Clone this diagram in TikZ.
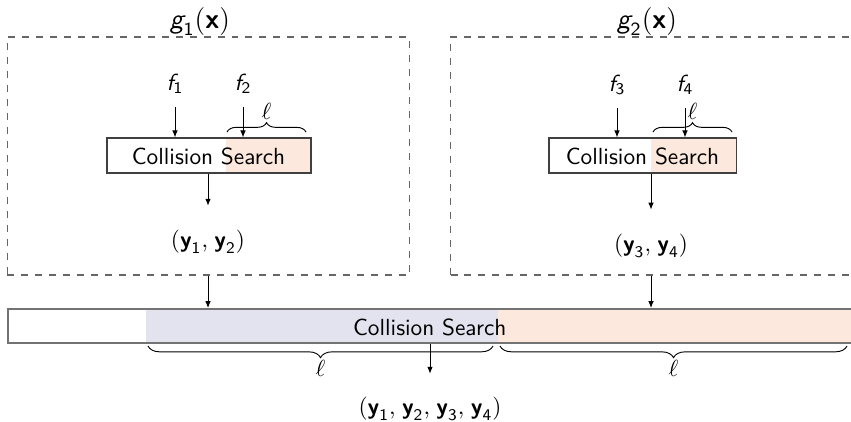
\documentclass[tikz,border=0pt]{standalone}
\usepackage{amsmath}
\usetikzlibrary{decorations.pathreplacing,fit,arrows.meta}
\definecolor{orfill}{RGB}{252,232,220}
\definecolor{blfill}{RGB}{227,227,240}
\newcommand{\subsf}[1]{_{\textsf{#1}}}
\begin{document}
\begin{tikzpicture}[x=0.4292pt,y=-0.4292pt,font=\sffamily,
  dbox/.style={draw=black!60,dashed,inner sep=0pt,line width=0.5pt},
  csbox/.style={draw=black!75,inner sep=0pt,line width=0.5pt},
  bigbox/.style={draw=black!55,inner sep=0pt,line width=0.8pt},
  arr/.style={-{Latex[length=3pt,width=2.4pt]},line width=0.4pt},
  topbrace/.style={decorate,decoration={brace,amplitude=4pt}},
  botbrace/.style={decorate,decoration={brace,amplitude=5pt,mirror}},
  lbl/.style={inner sep=1pt}]
\useasboundingbox (0,0) rectangle (851,421);
% dashed boxes
\node[dbox,fit={(7.3,37) (409.3,275)}] (d1) {};
\node[dbox,fit={(450.5,37) (880,275)}] (d2) {};
\node (g1) at (200,22) {\large$\textit{g}\subsf{1}(\textbf{x})$};
\node (g2) at (647,22) {\large$\textit{g}\subsf{2}(\textbf{x})$};
% fills
\fill[orfill] (226,138) rectangle (311,173);
\fill[orfill] (651,138) rectangle (736.7,173);
\fill[blfill] (146,309) rectangle (498,343);
\fill[orfill] (498,309) rectangle (870,343);
% collision boxes
\node[csbox,fit={(107,138) (311,173)}] (b1) {};
\node[csbox,fit={(549,138) (736.7,173)}] (b2) {};
\node[bigbox,fit={(7.7,309) (852.3,343)}] (bb) {};
\node (c1) at (208.5,156) {Collision Search};
\node (c2) at (642.5,156) {Collision Search};
\node (c3) at (429.7,327) {Collision Search};
% inputs
\node (f1) at (175,84) {$\textit{f}\subsf{1}$};
\node (f2) at (243,84) {$\textit{f}\subsf{2}$};
\node (f3) at (617,85) {$\textit{f}\subsf{3}$};
\node (f4) at (685,85) {$\textit{f}\subsf{4}$};
% outputs
\node (o1) at (208,242) {$(\textbf{y}\subsf{1},\mkern2mu\textbf{y}\subsf{2})$};
\node (o2) at (651,246) {$(\textbf{y}\subsf{3},\mkern2mu\textbf{y}\subsf{4})$};
\node (o3) at (430,409) {$(\textbf{y}\subsf{1},\mkern2mu\textbf{y}\subsf{2},\mkern2mu\textbf{y}\subsf{3},\mkern2mu\textbf{y}\subsf{4})$};
% arrows
\draw[arr,shorten <=2pt] (f1) -- (f1 |- b1.north);
\draw[arr,shorten <=2pt] (f2) -- (f2 |- b1.north);
\draw[arr,shorten <=2pt] (f3) -- (f3 |- b2.north);
\draw[arr,shorten <=2pt] (f4) -- (f4 |- b2.north);
\draw[arr] (b1.south -| o1) -- ([yshift=7pt]o1.north);
\draw[arr] (b2.south -| o2) -- ([yshift=7pt]o2.north);
\draw[arr] (d1.south -| o1) -- (o1 |- bb.north);
\draw[arr] (d2.south -| o2) -- (o2 |- bb.north);
\draw[arr] (bb.south -| o3) -- ([yshift=6.5pt]o3.north);
% braces
\coordinate (t1a) at (227,132); \coordinate (t1b) at (306,132);
\coordinate (t2a) at (653,132); \coordinate (t2b) at (732,132);
\coordinate (u1a) at (148,346); \coordinate (u1b) at (493,346);
\coordinate (u2a) at (500,346); \coordinate (u2b) at (847,346);
\draw[topbrace] (t1a) -- node[lbl,above=4pt] (l1) {$\ell$} (t1b);
\draw[topbrace] (t2a) -- node[lbl,above=4pt] (l2) {$\ell$} (t2b);
\draw[botbrace] (u1a) -- node[lbl,below=5pt] (l3) {$\ell$} (u1b);
\draw[botbrace] (u2a) -- node[lbl,below=5pt] (l4) {$\ell$} (u2b);
\end{tikzpicture}
\end{document}
